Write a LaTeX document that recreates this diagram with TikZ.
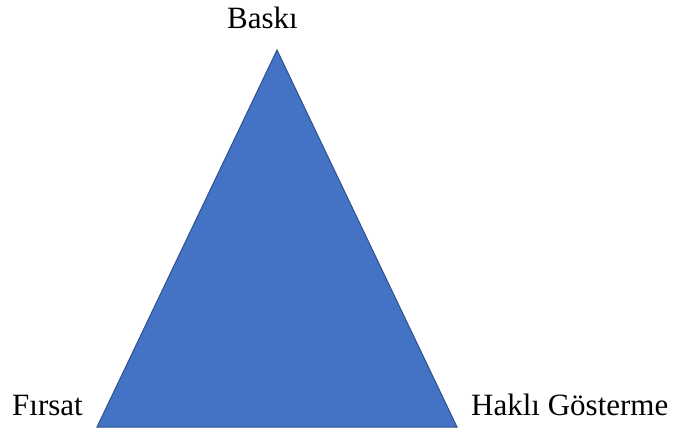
\documentclass[tikz,border=0pt]{standalone}
\usepackage{fontspec}
\setmainfont{Liberation Serif}
\definecolor{triblue}{HTML}{4472C4}
\definecolor{triedge}{HTML}{2F528F}
\begin{document}
\begin{tikzpicture}[x=1pt, y=-1pt,
            label/.style={inner sep=0pt, anchor=base west, font=\fontsize{31}{36}\selectfont},
            tri/.style={fill=triblue, draw=triedge, line width=1pt, line join=miter}
        ]
        \useasboundingbox (0,0) rectangle (677,432);
        \coordinate (top) at (277,50);
        \coordinate (left) at (97,427);
        \coordinate (right) at (457,427);
        \draw[tri] (top) -- (right) -- (left) -- cycle;

        \node[label] (baski) at (227,28) {Baskı};
        \node[label] (firsat) at (12,415) {Fırsat};
        \node[label] (hakli) at (471,415) {Haklı Gösterme};
    \end{tikzpicture}
\end{document}
